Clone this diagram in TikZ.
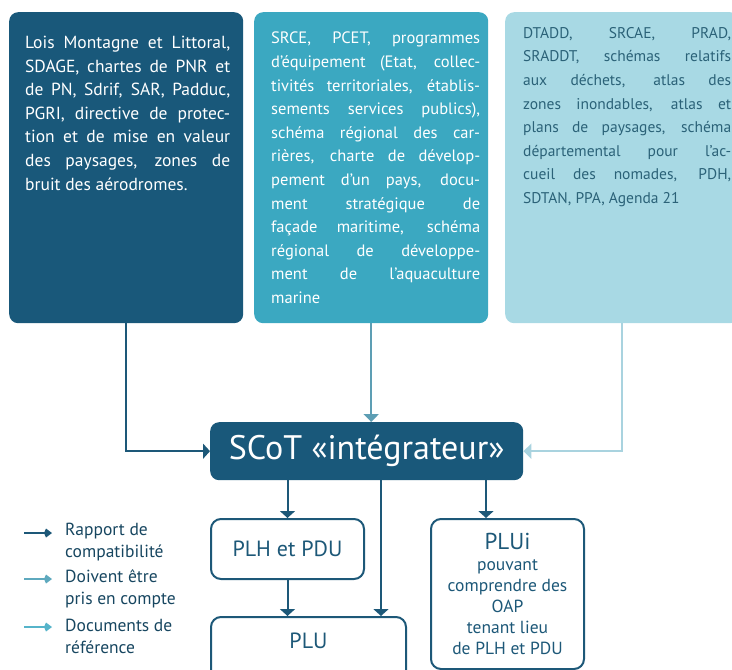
\documentclass[tikz,border=0pt]{standalone}
\usepackage{fontspec}
\setmainfont{PT Sans}
\usetikzlibrary{arrows.meta,positioning}
\definecolor{dkblue}{HTML}{19587A}
\definecolor{midblue}{HTML}{3BA8C1}
\definecolor{ltblue}{HTML}{A8D9E4}
\definecolor{dkline}{HTML}{1D5878}
\definecolor{midline}{HTML}{5D9EB4}
\definecolor{ltline}{HTML}{A9D3DF}
\definecolor{lttext}{HTML}{2B6278}
\definecolor{legtwo}{HTML}{5EA9BE}
\definecolor{legthree}{HTML}{56B4CA}
\tikzset{
  panel/.style={rounded corners=9pt, minimum width=234pt, minimum height=311pt,
    anchor=north west, inner sep=0pt},
  paneltext/.style={anchor=north west, text width=205pt, align=justify, inner sep=0pt,
    font=\fontsize{16.5}{23.6}\selectfont},
  docbox/.style={draw=dkline, line width=2pt, fill=white, rounded corners=10pt,
    inner sep=0pt, anchor=north west, text=dkline},
  legtext/.style={anchor=west, align=left, inner sep=0pt, text=dkline!80!black,
    font=\fontsize{17.5}{22}\selectfont},
  compat/.style={-{Triangle[width=15pt,length=7pt]}, draw=dkline, line width=2pt},
  compte/.style={-{Triangle[width=15pt,length=8pt]}, draw=midline, line width=2pt},
  refer/.style={-{Triangle[width=15pt,length=8pt]}, draw=ltline, line width=2.5pt},
  legarrow/.style={-{Kite[width=9pt,length=8pt,inset=2pt]}, line width=2.5pt}
}
\begin{document}
\begin{tikzpicture}[x=1pt,y=-1pt]
      \clip (0,0) rectangle (732,670);
      \node[panel, fill=dkblue] (box1) at (9,12) {};
      \node[panel, fill=midblue] (box2) at (254,12) {};
      \node[panel, fill=ltblue] (box3) at (505,12) {};
      \node[paneltext, text=white, font=\fontsize{17.5}{23.6}\selectfont] (text1) at (25,36) {Lois Montagne et Littoral,\linebreak
        SDAGE, chartes de PNR et\linebreak de PN, Sdrif, SAR, Padduc,\linebreak
        PGRI, directive de protec-\linebreak tion et de mise en valeur\linebreak
        des paysages, zones de\linebreak bruit des aérodromes.};
      \node[paneltext, text=white, text width=209pt] (text2) at (271,32) {SRCE, PCET, programmes\linebreak
        d’équipement (Etat, collec-\linebreak tivités territoriales, établis-\linebreak
        sements services publics),\linebreak schéma régional des car-\linebreak
        rières, charte de dévelop-\linebreak pement d’un pays, docu-\linebreak
        ment stratégique de\linebreak façade maritime, schéma\linebreak
        régional de développe-\linebreak ment de l’aquaculture\linebreak marine};
      \node[paneltext, text=lttext, text width=208pt, font=\fontsize{15.5}{23.6}\selectfont]
        (text3) at (523,27) {DTADD, SRCAE, PRAD,\linebreak
        SRADDT, schémas relatifs\linebreak aux déchets, atlas des\linebreak
        zones inondables, atlas et\linebreak plans de paysages, schéma\linebreak
        départemental pour l’ac-\linebreak cueil des nomades, PDH,\linebreak
        SDTAN, PPA, Agenda 21};
      \node[fill=dkblue, rounded corners=9pt, minimum width=313pt, minimum height=58pt,
        anchor=north west, inner sep=0pt, text=white, font=\fontsize{34}{38}\selectfont]
        (scot) at (210,422) {SCoT «intégrateur»};
      \node[docbox, minimum width=153pt, minimum height=60pt, font=\fontsize{22}{24}\selectfont]
        (plh) at (210,518) {PLH et PDU};
      \node[docbox, minimum width=195pt, minimum height=80pt] (plu) at (210,616) {};
      \node[below=17pt of plu.north, inner sep=0pt, text=dkline, font=\fontsize{22}{24}\selectfont]
        (plulabel) {PLU};
      \node[docbox, minimum width=153pt, minimum height=150pt, align=center,
        font=\fontsize{17.5}{21}\selectfont] (plui) at (430,518)
        {{\fontsize{23}{24}\selectfont PLUi}\\pouvant\\comprendre des\\OAP\\tenant lieu\\de PLH et PDU};
      \coordinate (tolu) at (381,480);
      \coordinate (toplui) at (486,480);
      \coordinate (lega) at (24,533);
      \coordinate (legb) at (24,579);
      \coordinate (legc) at (24,627);
      \node[legtext] (leg1) at (65,542) {Rapport de\\compatibilité};
      \node[legtext] (leg2) at (65,589) {Doivent être\\pris en compte};
      \node[legtext] (leg3) at (65,636) {Documents de\\référence};
      \begin{scope}[compat]
        \draw (box1.south) |- (scot.west);
        \draw (scot.south -| plh.north) to (plh.north);
        \draw (plh.south) to (plh.south |- plu.north);
        \draw (tolu) to (tolu |- plu.north);
        \draw (toplui) to (toplui |- plui.north);
      \end{scope}
      \draw[compte] (box2.south) to (box2.south |- scot.north);
      \draw[refer] (box3.south) |- (scot.east);
      \draw[legarrow, dkline] (lega) to ([xshift=28pt]lega);
      \draw[legarrow, legtwo] (legb) to ([xshift=28pt]legb);
      \draw[legarrow, legthree] (legc) to ([xshift=28pt]legc);
    \end{tikzpicture}
\end{document}
